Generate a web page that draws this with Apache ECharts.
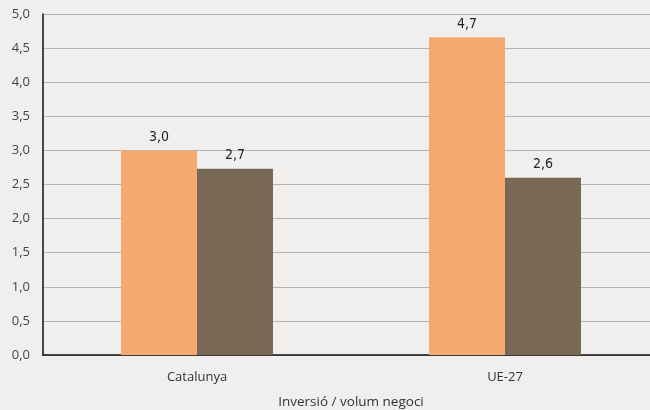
<!DOCTYPE html>
<html>
<head>
<meta charset="UTF-8">
<title>Inversió / volum negoci</title>
<script src="https://cdn.jsdelivr.net/npm/echarts@6/dist/echarts.min.js"></script>
<style>
body { margin: 0; padding: 0; background: #f0efed; }
#main { width: 650px; height: 410px; }
</style>
</head>
<body>
<div id="main"></div>
<script>
var categories = ['Catalunya', 'UE-27'];
var serieA = [3.0, 4.66];
var serieB = [2.73, 2.6];
var yTicks = { min: 0, max: 5, interval: 0.5 };

var chart = echarts.init(document.getElementById('main'));

function coma(v, d) {
	return Number(v).toFixed(d).replace('.', ',');
}

var labelCfg = {
	show: true,
	position: 'top',
	distance: 6,
	color: '#222',
	fontSize: 14,
	fontFamily: '"DejaVu Sans Condensed", "Liberation Sans Narrow", Roboto, sans-serif',
	formatter: function (p) { return coma(p.value, 1); }
};

chart.setOption({
	backgroundColor: '#f0efed',
	animation: false,
	// la zona de dibuix sobresurt una mica per la dreta, com a l'original
	grid: { left: 43, right: -9, top: 14, bottom: 55, outerBoundsMode: 'none', containLabel: false },
	xAxis: {
		type: 'category',
		data: categories,
		name: 'Inversió / volum negoci',
		nameLocation: 'middle',
		nameGap: 40,
		nameTextStyle: { color: '#333', fontSize: 13.5, fontFamily: 'Open Sans' },
		axisLine: { lineStyle: { color: '#111', width: 1.5 } },
		axisTick: { show: false },
		axisLabel: { color: '#333', fontSize: 13, fontFamily: 'Open Sans', margin: 16 }
	},
	yAxis: {
		type: 'value',
		min: yTicks.min,
		max: yTicks.max,
		interval: yTicks.interval,
		axisLine: { show: true, lineStyle: { color: '#111', width: 1.5 } },
		axisTick: { show: false },
		axisLabel: {
			color: '#444', fontSize: 13, fontFamily: 'Open Sans', margin: 13,
			formatter: function (v) { return coma(v, 1); }
		},
		splitLine: { lineStyle: { color: '#b4b4b4', width: 1 } }
	},
	series: [
		{
			type: 'bar',
			data: serieA,
			barWidth: 76,
			barGap: '0%',
			itemStyle: { color: '#f5a96e' },
			label: labelCfg
		},
		{
			type: 'bar',
			data: serieB,
			barWidth: 76,
			itemStyle: { color: '#7a6857' },
			label: labelCfg
		}
	]
});
</script>
</body>
</html>
